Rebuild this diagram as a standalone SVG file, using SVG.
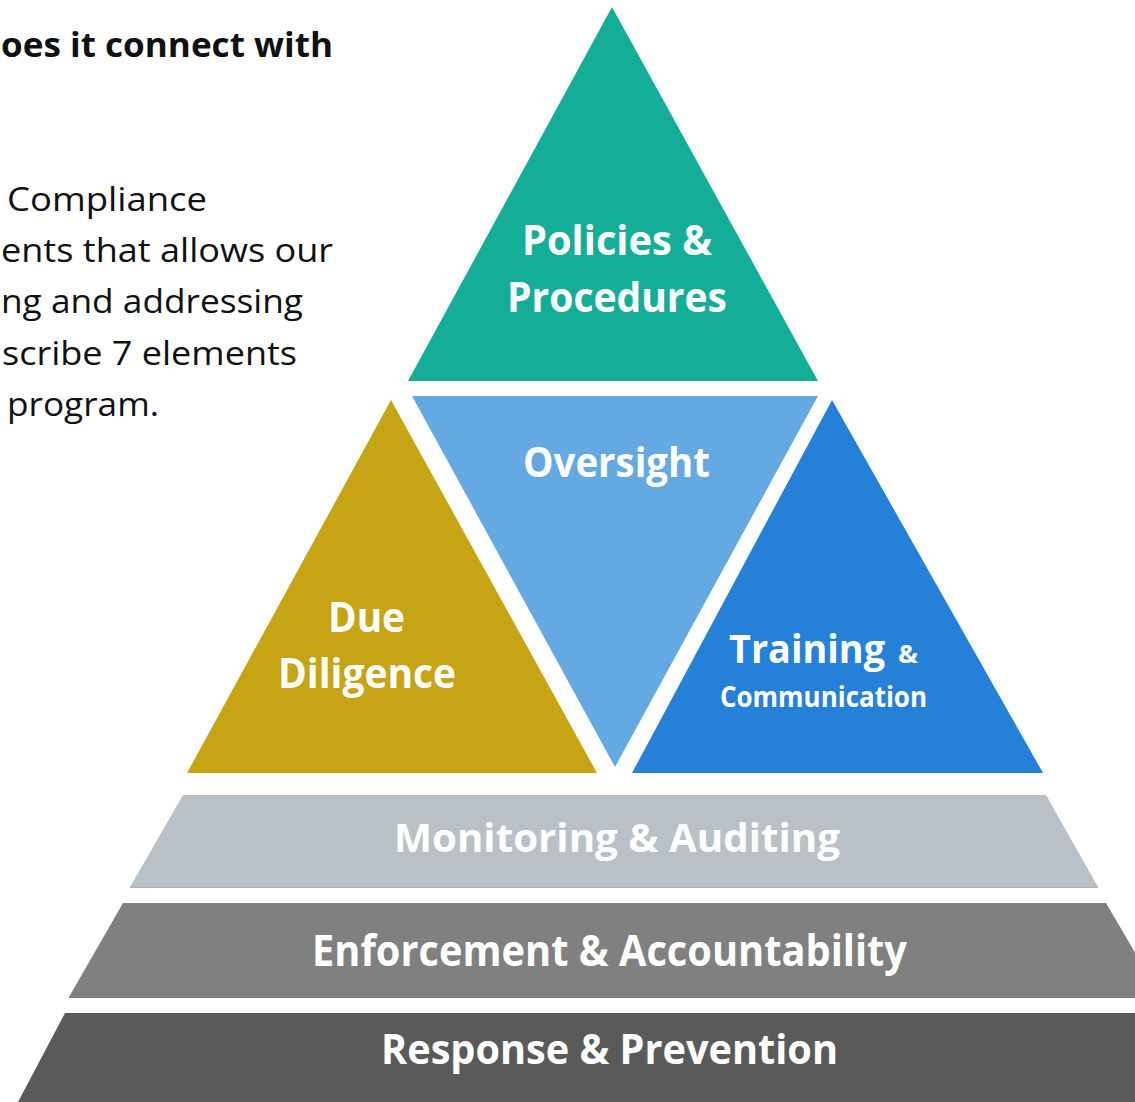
<svg xmlns="http://www.w3.org/2000/svg" width="1135" height="1102" viewBox="0 0 1135 1102">
  <style>
    .label { fill: #ffffff; font-family: "Open Sans", "Noto Sans", "Liberation Sans", sans-serif; font-weight: 700; }
    .body { fill: #111111; font-family: "Open Sans", "Noto Sans", "Liberation Sans", sans-serif; font-size: 33px; }
    .head { fill: #111111; font-family: "Open Sans", "Noto Sans", "Liberation Sans", sans-serif; font-size: 34px; font-weight: 700; }
  </style>
  <rect x="0" y="0" width="1135" height="1102" fill="#ffffff"/>

  <!-- intro text at the left edge -->
  <g id="intro">
    <text class="head" x="1" y="57" textLength="332" lengthAdjust="spacingAndGlyphs">oes it connect with</text>
    <text class="body" x="7" y="211" textLength="200" lengthAdjust="spacingAndGlyphs">Compliance</text>
    <text class="body" x="1" y="262" textLength="332" lengthAdjust="spacingAndGlyphs">ents that allows our</text>
    <text class="body" x="1" y="313" textLength="302" lengthAdjust="spacingAndGlyphs">ng and addressing</text>
    <text class="body" x="2" y="365" textLength="295" lengthAdjust="spacingAndGlyphs">scribe 7 elements</text>
    <text class="body" x="7" y="416" textLength="152" lengthAdjust="spacingAndGlyphs">program.</text>
  </g>

  <!-- upper pyramid: four triangles -->
  <g id="policies">
    <polygon points="612,7 818,381 408,381" fill="#14AE98"/>
    <text class="label" font-size="41" x="522" y="255" textLength="190" lengthAdjust="spacingAndGlyphs">Policies &amp;</text>
    <text class="label" font-size="41" x="507" y="312" textLength="220" lengthAdjust="spacingAndGlyphs">Procedures</text>
  </g>

  <g id="oversight">
    <polygon points="412,396 818,396 615,767" fill="#65A9E3"/>
    <text class="label" font-size="41" x="523" y="477" textLength="187" lengthAdjust="spacingAndGlyphs">Oversight</text>
  </g>

  <g id="due-diligence">
    <polygon points="391,400 597,773 187,773" fill="#C6A414"/>
    <text class="label" font-size="41" x="328" y="632" textLength="77" lengthAdjust="spacingAndGlyphs">Due</text>
    <text class="label" font-size="41" x="278" y="688" textLength="178" lengthAdjust="spacingAndGlyphs">Diligence</text>
  </g>

  <g id="training">
    <polygon points="832,400 1043,773 632,773" fill="#2581D8"/>
    <text class="label" font-size="39" x="729" y="663" textLength="156" lengthAdjust="spacingAndGlyphs">Training</text>
    <text class="label" font-size="25" x="898" y="663" textLength="20" lengthAdjust="spacingAndGlyphs">&amp;</text>
    <text class="label" font-size="29" x="720" y="707" textLength="207" lengthAdjust="spacingAndGlyphs">Communication</text>
  </g>

  <!-- lower pyramid: three bands -->
  <g id="monitoring">
    <polygon points="183,795 1046,795 1098,887 130,887" fill="#B9C0C6"/>
    <line x1="130" y1="887.5" x2="1098" y2="887.5" stroke="#a9afb4" stroke-width="1"/>
    <text class="label" font-size="40" x="394" y="852" textLength="446" lengthAdjust="spacingAndGlyphs">Monitoring &amp; Auditing</text>
  </g>

  <g id="enforcement">
    <polygon points="123,903 1106,903 1161,997 69,997" fill="#808080"/>
    <line x1="69" y1="997.5" x2="1135" y2="997.5" stroke="#727272" stroke-width="1"/>
    <text class="label" font-size="43" x="312" y="966" textLength="595" lengthAdjust="spacingAndGlyphs">Enforcement &amp; Accountability</text>
  </g>

  <g id="response">
    <polygon points="65,1013 1135,1013 1135,1102 18,1102" fill="#5A5A5A"/>
    <text class="label" font-size="41" x="381" y="1064" textLength="457" lengthAdjust="spacingAndGlyphs">Response &amp; Prevention</text>
  </g>

  <g id="connectors"/>
</svg>
